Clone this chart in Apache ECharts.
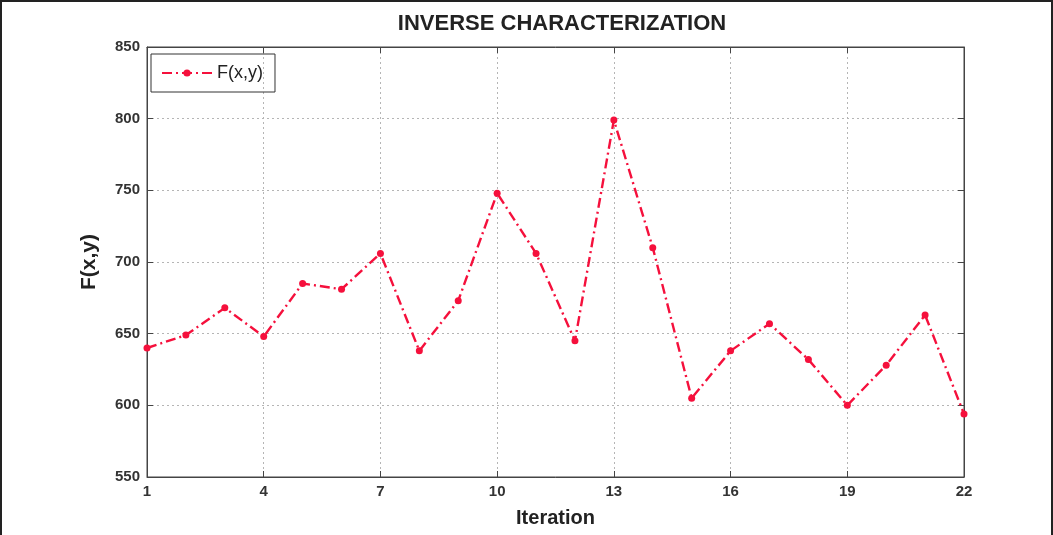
<!DOCTYPE html>
<html>
<head>
<meta charset="utf-8">
<script src="https://cdn.jsdelivr.net/npm/echarts@6/dist/echarts.min.js"></script>
<style>
  html, body { margin: 0; padding: 0; background: #fff; }
  #chart { width: 1053px; height: 535px; box-sizing: border-box;
           border-top: 2px solid #222; border-left: 2px solid #222; border-right: 2px solid #222; }
</style>
</head>
<body>
<div id="chart"></div>
<script>
// iterations 1..22
const iterations = ['1','2','3','4','5','6','7','8','9','10','11','12','13','14','15','16','17','18','19','20','21','22'];
// F(x,y) per iteration
const fxy = [640, 649, 668, 648, 685, 681, 706, 638, 673, 748, 706, 645, 799, 710, 605, 638, 657, 632, 600, 628, 663, 594];
const yTicks = [550, 600, 650, 700, 750, 800, 850];

const red = '#f5103c';
const gridLine = { show: true, lineStyle: { color: '#b5b5b5', type: [2, 3], width: 1 } };
const tickFont = { fontFamily: 'Liberation Sans', fontSize: 15, fontWeight: 'bold', color: '#333' };

const chart = echarts.init(document.getElementById('chart'));
chart.setOption({
  backgroundColor: '#ffffff',
  animation: false,
  title: {
    text: 'INVERSE CHARACTERIZATION',
    left: 555, top: 6, textAlign: 'center',
    textStyle: { fontFamily: 'Liberation Sans', fontSize: 22, fontWeight: 'bold', color: '#222' }
  },
  legend: {
    left: 149, top: 52,
    orient: 'vertical',
    borderColor: '#333', borderWidth: 1, borderRadius: 0,
    padding: [10, 12, 10, 10],
    itemWidth: 50, itemHeight: 9,
    textStyle: { fontFamily: 'Liberation Sans', fontSize: 18, color: '#222' },
    data: ['F(x,y)']
  },
  grid: { left: 145, right: 87, top: 45, bottom: 58, show: true, borderColor: '#444', borderWidth: 1 },
  xAxis: [{
    type: 'category',
    data: iterations,
    boundaryGap: false,
    name: 'Iteration', nameLocation: 'middle', nameGap: 31,
    nameTextStyle: { fontFamily: 'Liberation Sans', fontSize: 20, fontWeight: 'bold', color: '#222' },
    axisLine: { lineStyle: { color: '#444' } },
    axisTick: { inside: true, interval: 2, length: 6, lineStyle: { color: '#444' } },
    axisLabel: Object.assign({ interval: 2, margin: 7 }, tickFont),
    splitLine: Object.assign({ interval: 2 }, gridLine)
  }, {
    type: 'category',
    data: iterations,
    boundaryGap: false,
    position: 'top',
    axisLine: { lineStyle: { color: '#444' } },
    axisTick: { inside: true, interval: 2, length: 6, lineStyle: { color: '#444' } },
    axisLabel: { show: false },
    splitLine: { show: false }
  }],
  yAxis: [{
    type: 'value',
    min: yTicks[0], max: yTicks[yTicks.length - 1], interval: 50,
    name: 'F(x,y)', nameLocation: 'middle', nameGap: 47,
    nameTextStyle: { fontFamily: 'Liberation Sans', fontSize: 21, fontWeight: 'bold', color: '#222' },
    axisLine: { show: true, lineStyle: { color: '#444' } },
    axisTick: { show: true, inside: true, length: 6, lineStyle: { color: '#444' } },
    axisLabel: Object.assign({ margin: 7 }, tickFont),
    splitLine: gridLine
  }, {
    type: 'value',
    min: yTicks[0], max: yTicks[yTicks.length - 1], interval: 50,
    position: 'right',
    axisLine: { show: true, lineStyle: { color: '#444' } },
    axisTick: { show: true, inside: true, length: 6, lineStyle: { color: '#444' } },
    axisLabel: { show: false },
    splitLine: { show: false }
  }],
  series: [{
    name: 'F(x,y)',
    type: 'line',
    data: fxy,
    symbol: 'circle',
    symbolSize: 7,
    itemStyle: { color: red },
    lineStyle: { color: red, width: 2.4, type: [10, 4, 2, 4] }
  }]
});
</script>
</body>
</html>
